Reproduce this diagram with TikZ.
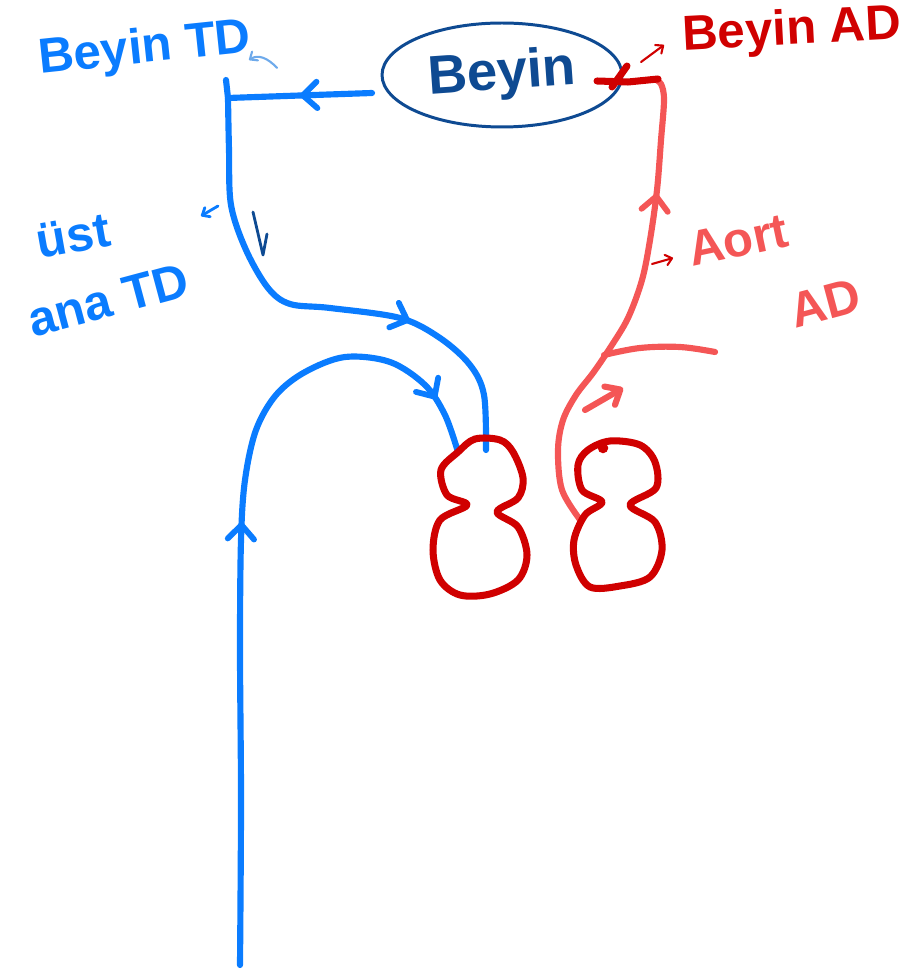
\documentclass[tikz,border=0pt]{standalone}
\usepackage{fontspec}
\setmainfont{Liberation Sans}
\usetikzlibrary{shapes.geometric,arrows.meta,decorations.markings}
\definecolor{vein}{RGB}{10,124,255}
\definecolor{paleblue}{RGB}{110,170,235}
\definecolor{brainblue}{RGB}{14,74,146}
\definecolor{heartred}{RGB}{208,0,0}
\definecolor{artery}{RGB}{244,86,86}
\tikzset{
  pen/.style={line width=3.5pt,line cap=round,line join=round},
  heartpen/.style={line width=4pt,line cap=round,line join=round,heartred},
  thinpen/.style={line width=1.2pt,line cap=round,line join=round},
  barb/.style={-{Straight Barb[round,length=7pt,width=12pt]}},
  smallbarb/.style={-{Straight Barb[round,length=3.5pt,width=6pt]}},
  midbarb/.style={postaction={decorate,decoration={markings,
      mark=at position #1 with {\arrow{Straight Barb[round,length=8pt,width=15pt,line width=3.3pt]}}}}},
  handtext/.style={font=\bfseries\fontsize{28}{30}\selectfont,inner sep=0pt},
}
\begin{document}
\begin{tikzpicture}[x=0.02cm,y=-0.02cm]
\useasboundingbox (0,0) rectangle (912,972);

% brain
\node[ellipse,draw=brainblue,line width=1.7pt,minimum width=4.8cm,minimum height=2.08cm,
      inner sep=0pt,text=brainblue,font=\bfseries\fontsize{31}{33}\selectfont] (brain) at (502,75) {\rotatebox{4}{Beyin}};

% labels
\node[handtext,vein,rotate=6] (begintd) at (145,50) {Beyin TD};
\node[handtext,heartred,rotate=3] (beginad) at (792,32) {Beyin AD};
\node[handtext,vein,rotate=10] (ust) at (73,236) {üst};
\node[handtext,vein,rotate=15] (anatd) at (108,300) {ana TD};
\node[handtext,artery,rotate=12] (aort) at (738,240) {Aort};
\node[handtext,artery,rotate=15] (ad) at (825,303) {AD};

% key points of the vessels
\coordinate (tdstart) at (372,93);
\coordinate (tdjoin) at (228,98);
\coordinate (tdtop) at (226,80);
\coordinate (svcend) at (486,450);
\coordinate (ivcstart) at (240,965);
\coordinate (ivcend) at (458,452);
\coordinate (aortroot) at (581,521);
\coordinate (aorttop) at (654,79);
\coordinate (arch) at (604,355);
\coordinate (branchend) at (715,352);

% veins (blue)
\draw[pen,vein,midbarb=0.5] (tdstart) -- (tdjoin);
\draw[pen,vein] (tdtop) -- (tdjoin);
\draw[pen,vein,midbarb=0.68] plot[smooth,tension=0.55] coordinates {(tdjoin) (229,150) (231,205) (246,250) (268,288) (290,304) (330,308) (400,318) (440,338) (470,365) (484,395) (svcend)};
\draw[pen,vein,midbarb=0.54,midbarb=0.93] plot[smooth,tension=0.55] coordinates {(ivcstart) (241,800) (240,650) (241,540) (245,480) (256,430) (276,395) (305,372) (345,357) (390,362) (425,385) (445,415) (ivcend)};

% arteries (red)
\draw[pen,artery,midbarb=0.75] plot[smooth,tension=0.55] coordinates {(aortroot) (562,490) (558,450) (563,420) (576,395) (593,373) (610,348) (628,318) (642,280) (650,240) (657,190) (661,140) (664,100) (661,84) (aorttop)};
\draw[pen,artery] plot[smooth,tension=0.6] coordinates {(arch) (640,348) (680,347) (branchend)};
\coordinate (upa) at (585,410);
\coordinate (upb) at (623,388);
\draw[pen,artery,barb] (upa) -- (upb);

% outlet mark at the brain
\coordinate (mka) at (597,81);
\coordinate (mkb) at (658,79);
\draw[heartpen] (mka) -- (628,82) -- (mkb);
\draw[heartpen] (627,66) -- (612,87);

% pointers to labels
\draw[thinpen,heartred,smallbarb] (641,62) -- (664,45);
\draw[thinpen,heartred,smallbarb] (652,264) -- (673,258);
\draw[thinpen,paleblue,smallbarb] (277,68) .. controls (268,58) and (258,54) .. (249,60);
\draw[line width=1.6pt,line cap=round,vein,smallbarb] (218,206) -- (201,216);
\draw[line width=1.6pt,line cap=round,line join=round,brainblue] (253,212) -- (263,255) -- (267,234);

% heart chambers
\draw[heartpen] plot[smooth cycle,tension=0.55] coordinates {(458,452) (475,439) (500,440) (513,452) (523,478) (518,498) (497,512) (518,527) (527,555) (518,580) (490,594) (460,595) (440,580) (433,550) (440,520) (467,505) (447,495) (441,470)};
\draw[heartpen] plot[smooth cycle,tension=0.55] coordinates {(588,450) (610,441) (640,445) (655,462) (656,488) (630,505) (655,522) (662,550) (650,577) (620,586) (590,587) (576,565) (574,540) (585,515) (602,502) (582,490) (578,465)};
\fill[heartred] (603,448) circle[radius=3pt];
\end{tikzpicture}
\end{document}
